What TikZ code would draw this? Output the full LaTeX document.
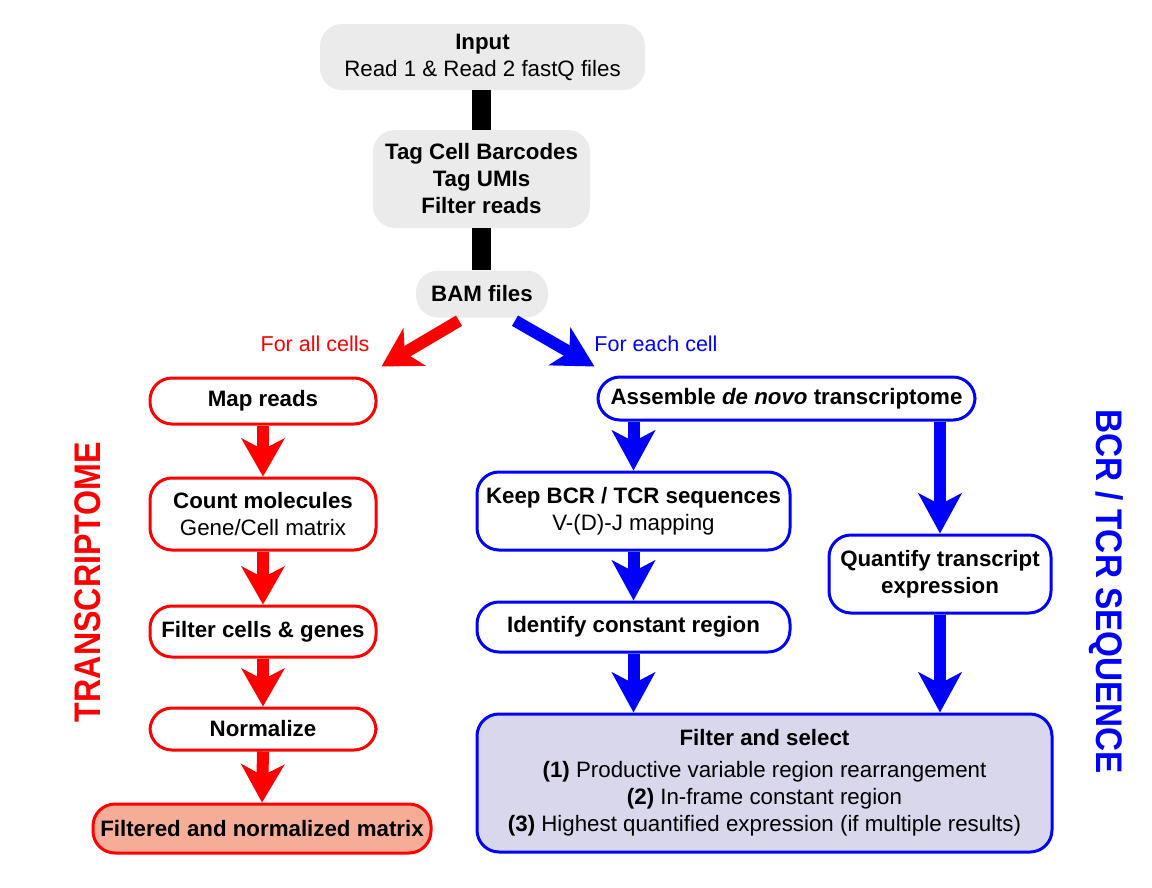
\documentclass[tikz,border=0pt]{standalone}
\usepackage{fontspec}
\setmainfont{Liberation Sans}
\usetikzlibrary{arrows.meta,calc}
\definecolor{boxgray}{HTML}{EBEBEB}
\definecolor{salmon}{HTML}{F5AD97}
\definecolor{lavender}{HTML}{D9D7EB}
\definecolor{pred}{HTML}{FF0000}
\definecolor{pblue}{HTML}{0000FF}
\newcommand{\bodyfont}{\fontsize{22.3}{27}\selectfont}
\tikzset{
  base/.style={align=center, inner sep=0pt, rounded corners=22pt,
    font=\bodyfont},
  boldtext/.style={font=\bodyfont\bfseries},
  graybox/.style={base, fill=boxgray},
  redbox/.style={base, draw=pred, line width=3pt, fill=white},
  bluebox/.style={base, draw=pblue, line width=3pt, fill=white},
  bar/.style={line width=19pt, black},
  redarrow/.style={pred, line width=12pt, -{Stealth[length=38pt,width=43pt,inset=11pt]}},
  bluearrow/.style={pblue, line width=12pt, -{Stealth[length=40pt,width=43pt,inset=11pt]}},
  sidelabel/.style={font=\fontsize{21.5}{26}\selectfont},
  biglabel/.style={font=\fontsize{37}{40}\selectfont\bfseries}
}
\begin{document}
\begin{tikzpicture}[x=1pt,y=-1pt]
\useasboundingbox (0,0) rectangle (1152,887);
% top
\node[graybox, minimum width=325pt, minimum height=66pt] (input) at (482.5,57) {\textbf{Input}\\Read 1 \& Read 2 fastQ files};
\node[graybox, boldtext, minimum width=217pt, minimum height=98pt] (tag) at (481.5,179) {Tag Cell Barcodes\\Tag UMIs\\Filter reads};
\node[graybox, boldtext, minimum width=132pt, minimum height=47pt] (bam) at (482,294) {BAM files};
\draw[bar] (input.south -| tag.north) -- (tag.north);
\draw[bar] (tag.south) -- (tag.south |- bam.north);
% left column
\node[redbox, boldtext, minimum width=226pt, minimum height=46pt] (map) at (263,401) {Map reads};
\node[redbox, minimum width=226pt, minimum height=72pt] (count) at (263,514) {\textbf{Count molecules}\\Gene/Cell matrix};
\node[redbox, boldtext, minimum width=226pt, minimum height=51pt] (filt) at (263,631.5) {Filter cells \& genes};
\node[redbox, boldtext, minimum width=226pt, minimum height=42pt] (norm) at (263,729) {Normalize};
\node[redbox, boldtext, fill=salmon, minimum width=338pt, minimum height=49pt] (mat) at (262,828.5) {Filtered and normalized matrix};
\draw[redarrow] (map.south) -- (count.north);
\draw[redarrow] (count.south) -- (filt.north);
\draw[redarrow] (filt.south) -- (norm.north);
\draw[redarrow] (norm.south) -- (mat.north);
% right column
\node[bluebox, boldtext, minimum width=377pt, minimum height=43pt] (asm) at (786.5,398.5) {Assemble \textit{de novo} transcriptome};
\node[bluebox, minimum width=313pt, minimum height=78pt] (keep) at (633.5,511) {\textbf{Keep BCR / TCR sequences}\\V-(D)-J mapping};
\node[bluebox, boldtext, minimum width=313pt, minimum height=50pt] (ident) at (633.5,627) {Identify constant region};
\node[bluebox, boldtext, minimum width=222pt, minimum height=78pt] (quant) at (940,574) {Quantify transcript\\expression};
\node[bluebox, fill=lavender, minimum width=575pt, minimum height=138pt] (sel) at (764.5,783) {\textbf{Filter and select}\\[5pt]\textbf{(1)} Productive variable region rearrangement\\\textbf{(2)} In-frame constant region\\\textbf{(3)} Highest quantified expression (if multiple results)};
\draw[bluearrow] (asm.south -| keep.north) -- (keep.north);
\draw[bluearrow] (asm.south -| quant.north) -- (quant.north);
\draw[bluearrow] (keep.south) -- (ident.north);
\draw[bluearrow] (ident.south) -- (ident.south |- sel.north);
\draw[bluearrow] (quant.south) -- (quant.south |- sel.north);
% branching
\draw[redarrow] ($(bam.south)+(-23,3)$) -- ($(map.north east)+(4,-10)$);
\draw[bluearrow] ($(bam.south)+(33,3)$) -- ($(asm.north west)+(-2,-9)$);
\node[sidelabel, text=pred] (lall) at (315,344) {For all cells};
\node[sidelabel, text=pblue] (leach) at (656,344) {For each cell};
% big labels
\node[biglabel, text=pred, rotate=90] (tr) at (88,582) {\scalebox{0.87}[1]{TRANSCRIPTOME}};
\node[biglabel, text=pblue, rotate=-90] (bcr) at (1106,592) {\scalebox{0.9}[1]{BCR / TCR SEQUENCE}};
\end{tikzpicture}
\end{document}
